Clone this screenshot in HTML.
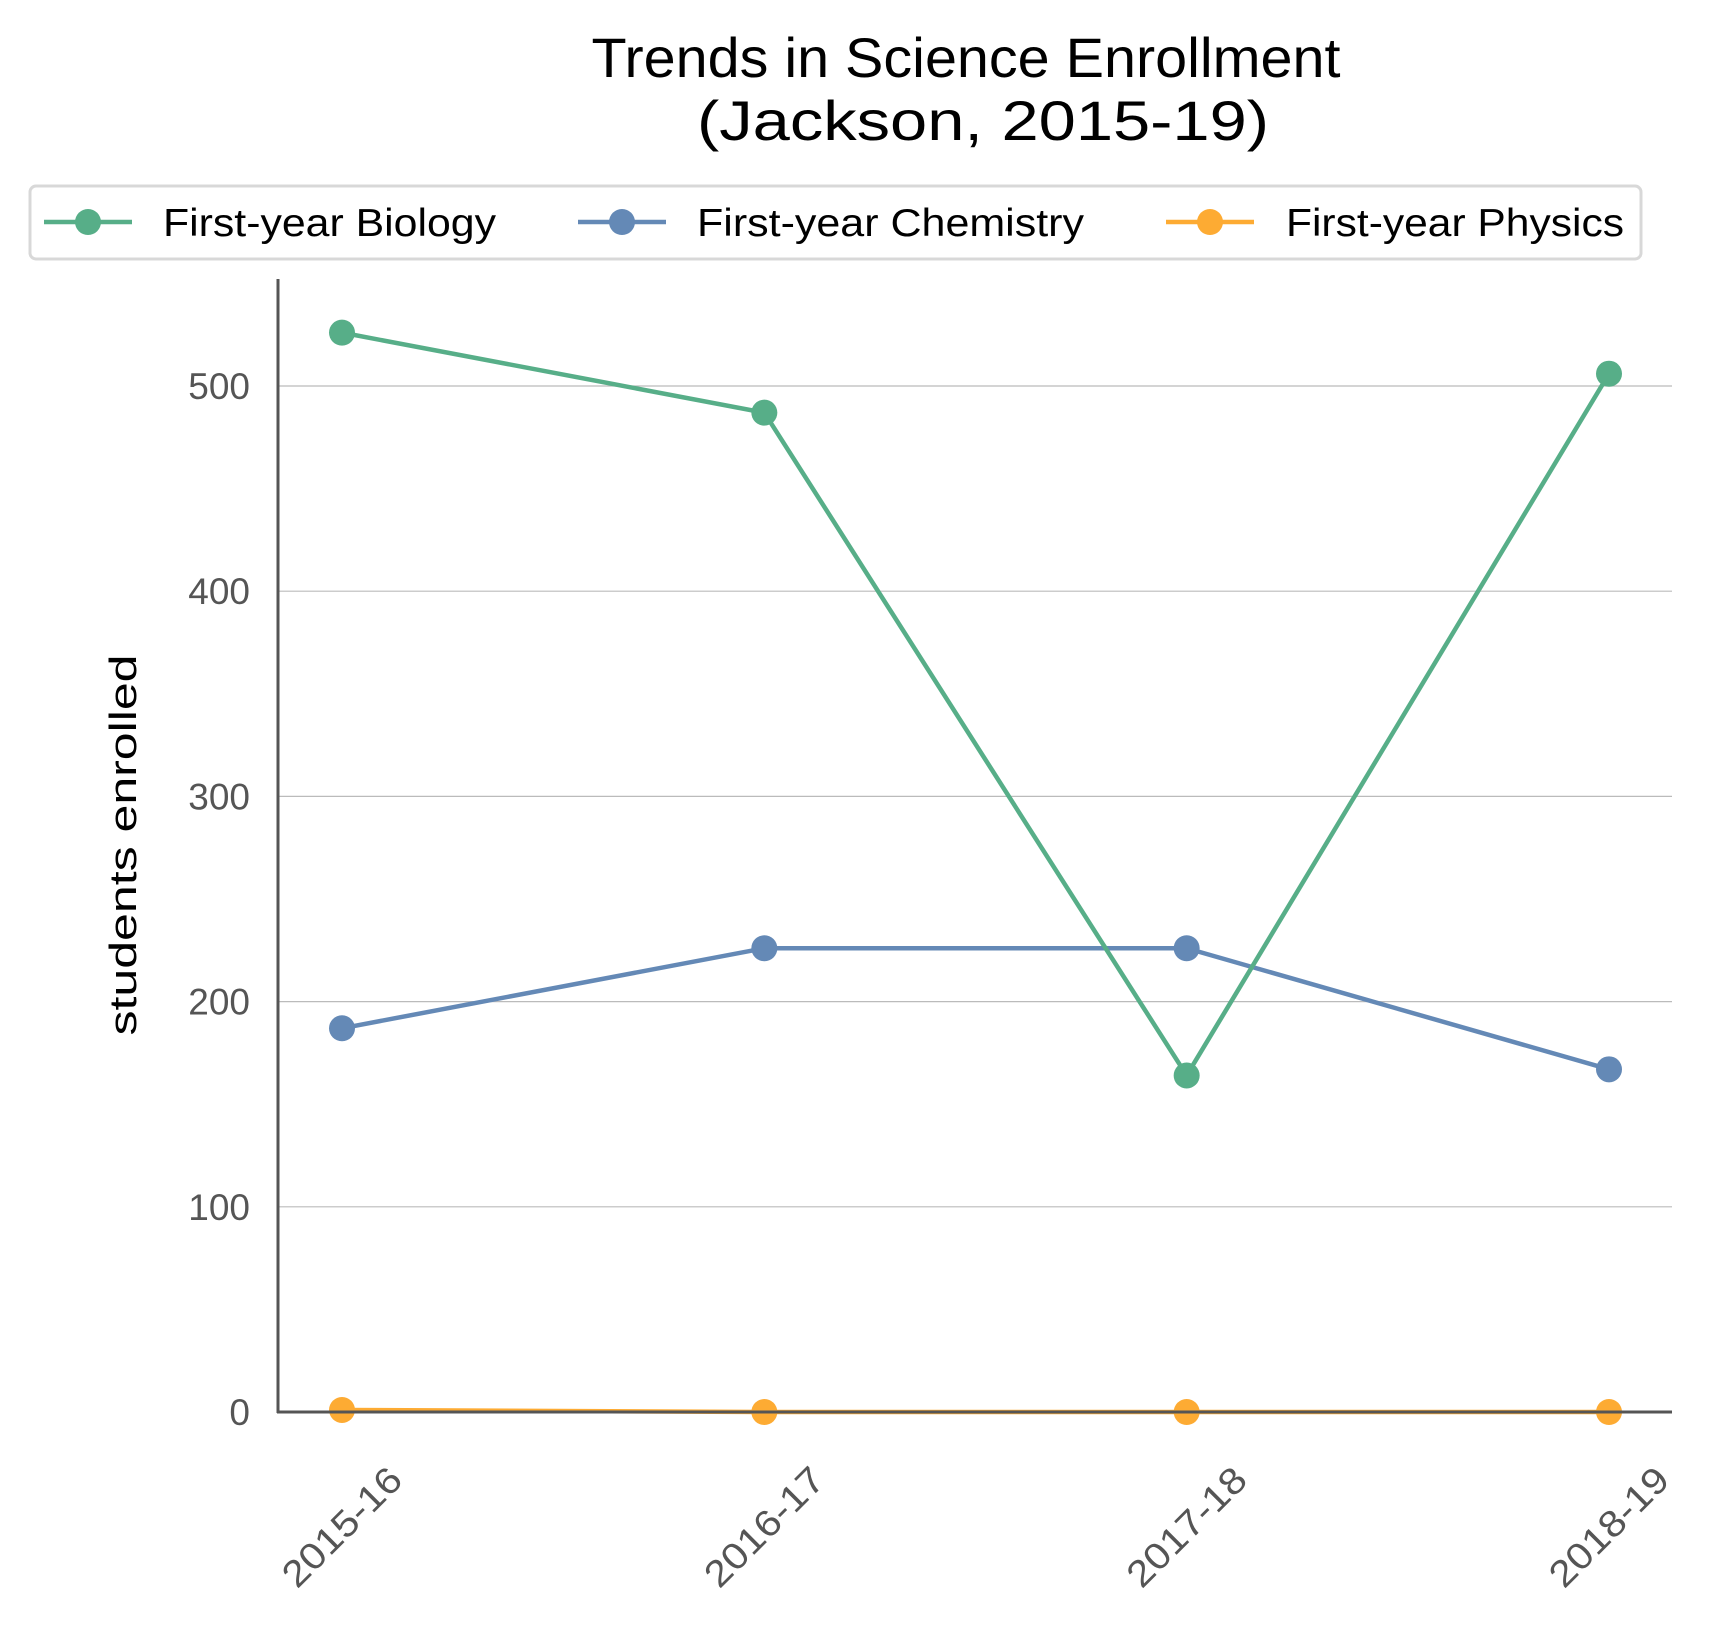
<!DOCTYPE html>
<html><head><meta charset="utf-8"><style>
html,body{margin:0;padding:0;background:#fff;}
svg{display:block;font-family:"Liberation Sans",sans-serif;}
</style></head><body>
<svg id="chart" width="1721" height="1634" viewBox="0 0 1721 1634" xmlns="http://www.w3.org/2000/svg">
<g>
<text x="966" y="77" text-anchor="middle" font-size="56" fill="#000" textLength="749" lengthAdjust="spacingAndGlyphs">Trends in Science Enrollment</text>
<text x="983" y="140" text-anchor="middle" font-size="56" fill="#000" textLength="572" lengthAdjust="spacingAndGlyphs">(Jackson, 2015-19)</text>
</g>
<g id="legend">
<rect x="30" y="186" width="1611" height="73" rx="6" fill="#fff" stroke="#d8d8d8" stroke-width="3"/>
</g>
<g id="grid"></g>
<g id="yticks"></g>
<g id="xticks"></g>
<text transform="translate(136,845) rotate(-90)" text-anchor="middle" font-size="38" fill="#000" textLength="381" lengthAdjust="spacingAndGlyphs">students enrolled</text>
<g id="series"></g>
<line x1="278" y1="279" x2="278" y2="1413" stroke="#555" stroke-width="3"/>
<line x1="277" y1="1412" x2="1672" y2="1412" stroke="#555" stroke-width="3"/>
</svg>
<script>
const categories = ["2015-16","2016-17","2017-18","2018-19"];
const biology = [526, 487, 164, 506];
const chemistry = [187, 226, 226, 167];
const physics = [1, 0, 0, 0];
const yTicks = [0, 100, 200, 300, 400, 500];
const seriesNames = ["First-year Biology","First-year Chemistry","First-year Physics"];

const NS = "http://www.w3.org/2000/svg";
const X0 = 342, X1 = 1609, Y0 = 1412, PER = 2.052;
function xs(i){ return X0 + i*(X1-X0)/(categories.length-1); }
function ys(v){ return Y0 - v*PER; }
function mk(tag, attrs, parent){ const e=document.createElementNS(NS,tag); for(const k in attrs) e.setAttribute(k,attrs[k]); parent.appendChild(e); return e; }

const grid=document.getElementById('grid'), yt=document.getElementById('yticks'), xt=document.getElementById('xticks');
yTicks.forEach(t=>{
  if(t>0){
    const g=mk('line',{x1:279,x2:1672,y1:ys(t),y2:ys(t),stroke:'#bbbbbb','stroke-width':1.2},grid);
    
    
  }
  const tx=mk('text',{x:250,y:ys(t)+13,'text-anchor':'end','font-size':37,fill:'#555'},yt);
  tx.textContent=String(t);
  
  
});
categories.forEach((c,i)=>{
  const tx=mk('text',{transform:`translate(${xs(i)},1527) rotate(-45)`,'text-anchor':'middle','dominant-baseline':'central','font-size':37,fill:'#555',textLength:152,lengthAdjust:'spacingAndGlyphs'},xt);
  tx.textContent=c;
  
  
});

const colors=['#57ae88','#6489b6','#fdab33'];
const data=[biology,chemistry,physics];
const series=document.getElementById('series');
[2,1,0].forEach(s=>{
  const g=mk('g',{},series);
  
  
  const pts=data[s].map((v,i)=>xs(i)+','+ys(v)).join(' ');
  const pl=mk('polyline',{points:pts,fill:'none',stroke:colors[s],'stroke-width':4.5,'stroke-linejoin':'round'},g);
  
  
  data[s].forEach((v,i)=>{
    const c=mk('circle',{cx:xs(i),cy:ys(v),r:13,fill:colors[s]},g);
    
    
  });
});

const legend=document.getElementById('legend');
const lx=[44,578,1166], tx=[163,697,1286], tw=[333,387,338];
seriesNames.forEach((n,s)=>{
  const g=mk('g',{},legend);
  
  
  mk('line',{x1:lx[s],x2:lx[s]+88,y1:222,y2:222,stroke:colors[s],'stroke-width':4.5},g);
  mk('circle',{cx:lx[s]+44,cy:222,r:13,fill:colors[s]},g);
  const t=mk('text',{x:tx[s],y:236,'font-size':39,fill:'#000',textLength:tw[s],lengthAdjust:'spacingAndGlyphs'},g);
  t.textContent=n;
});
</script>
</body></html>
